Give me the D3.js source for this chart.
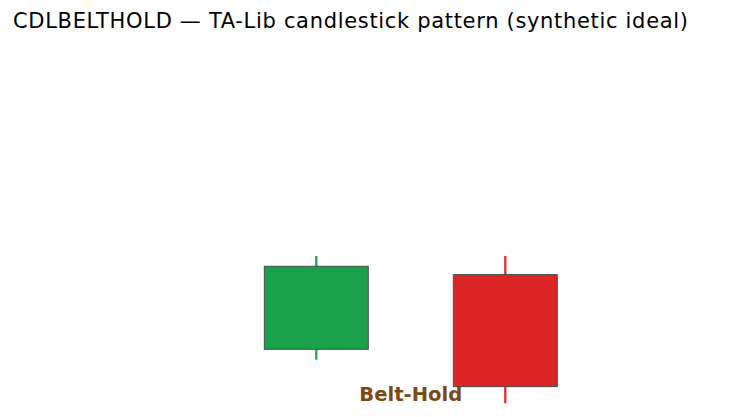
<!DOCTYPE html>
<html><head><meta charset="utf-8">
<script src="https://cdn.jsdelivr.net/npm/d3@7"></script>
<style>body{margin:0;background:#fff}</style>
</head><body>
<svg id="chart" width="744" height="417"></svg>
<script>
const titleText = "CDLBELTHOLD — TA-Lib candlestick pattern (synthetic ideal)";
const candleIdx = [0, 1];
const opens  = [100.0, 103.6];
const highs  = [104.5, 104.5];
const lows   = [99.5, 97.4];
const closes = [104.0, 98.2];
const patternLabel = "Belt-Hold";
const labelX = 0.5;
const labelY = 97.5;

const svg = d3.select("#chart");
const x = d3.scaleLinear().domain([0, 1]).range([316.3, 505.3]);
const y = d3.scaleLinear().domain([96.737, 114.665]).range([417, 45]);
const bw = 0.55 * (x(1) - x(0));

const data = candleIdx.map((i, k) => ({i, o: opens[k], h: highs[k], l: lows[k], c: closes[k]}));
const col = d => d.c >= d.o ? "#18a34a" : "#dc2626";

svg.append("text")
  .attr("x", x(labelX)).attr("y", y(labelY))
  .attr("text-anchor", "middle")
  .attr("font-family", "DejaVu Sans").attr("font-weight", "bold")
  .attr("font-size", 19.6).attr("fill", "#7b4a12")
  .text(patternLabel);

const g = svg.append("g");
g.selectAll("line.wick").data(data).enter().append("line")
  .attr("class", "wick")
  .attr("x1", d => x(d.i)).attr("x2", d => x(d.i))
  .attr("y1", d => y(d.h)).attr("y2", d => y(d.l))
  .attr("stroke", col).attr("stroke-width", 2.2);
g.selectAll("rect.body").data(data).enter().append("rect")
  .attr("class", "body")
  .attr("x", d => x(d.i) - bw / 2)
  .attr("width", bw)
  .attr("y", d => y(Math.max(d.o, d.c)))
  .attr("height", d => Math.abs(y(d.o) - y(d.c)))
  .attr("fill", col).attr("stroke", "#4a4a4a").attr("stroke-width", 1);

svg.append("text")
  .attr("x", 13).attr("y", 28.3)
  .attr("font-family", "DejaVu Sans").attr("font-size", 21).attr("fill", "#000")
  .attr("textLength", 675).attr("lengthAdjust", "spacing")
  .text(titleText);
</script>
</body></html>
